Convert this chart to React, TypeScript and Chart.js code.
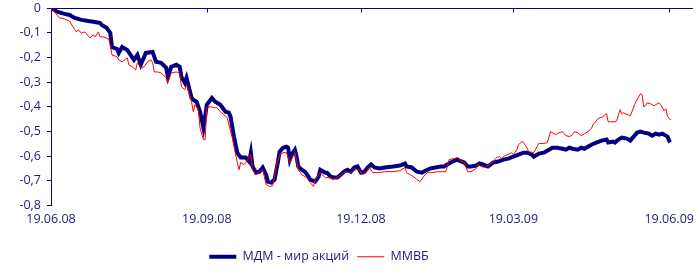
import { useEffect, useRef } from "react";
import Chart from "chart.js/auto";

// Days counted from 19.06.08
const tickDays = [0, 92, 183, 273, 365];
const tickLabels = ["19.06.08", "19.09.08", "19.12.08", "19.03.09", "19.06.09"];
const yTickValues = [0, -0.1, -0.2, -0.3, -0.4, -0.5, -0.6, -0.7, -0.8];
const seriesNames = ["МДМ - мир акций", "ММВБ"];

const mdmDays = [
  0, 4, 8, 11, 14, 18, 22, 26, 29, 30, 33, 35, 36, 39, 40, 42, 45, 47, 49, 51,
  53, 56, 60, 62, 65, 68, 69, 71, 74, 76, 77, 79, 80, 83, 84, 86, 88, 90, 91, 92,
  95, 97, 100, 103, 105, 106, 108, 110, 112, 115, 117, 118, 119, 121, 123, 125, 127, 128, 130, 132,
  134, 135, 137, 139, 140, 141, 142, 144, 145, 146, 148, 150, 152, 153, 156, 158, 159, 162, 163, 165,
  168, 169, 171, 173, 175, 177, 179, 181, 183, 185, 187, 189, 191, 194, 197, 202, 206, 209, 210, 213,
  216, 219, 221, 224, 227, 230, 232, 234, 237, 240, 241, 244, 246, 248, 251, 253, 255, 258, 261, 264,
  267, 270, 273, 276, 279, 281, 284, 285, 288, 291, 294, 296, 299, 302, 304, 306, 308, 311, 313, 315,
  317, 319, 322, 325, 328, 329, 332, 333, 335, 337, 340, 342, 344, 346, 348, 350, 353, 355, 357, 359,
  361, 363, 364, 365, 366,
];
const mdmValues = [
  0, -0.016, -0.024, -0.028, -0.04, -0.048, -0.053, -0.057, -0.061, -0.069, -0.081, -0.101, -0.158, -0.166, -0.182, -0.158, -0.17, -0.19, -0.21, -0.19,
  -0.23, -0.182, -0.178, -0.218, -0.222, -0.242, -0.279, -0.238, -0.23, -0.238, -0.279, -0.303, -0.283, -0.364, -0.372, -0.38, -0.42, -0.485, -0.44, -0.392,
  -0.364, -0.38, -0.392, -0.42, -0.424, -0.44, -0.521, -0.586, -0.606, -0.606, -0.622, -0.586, -0.642, -0.667, -0.663, -0.646, -0.675, -0.703, -0.707, -0.695,
  -0.622, -0.582, -0.566, -0.562, -0.566, -0.614, -0.594, -0.574, -0.602, -0.642, -0.655, -0.663, -0.683, -0.695, -0.703, -0.683, -0.655, -0.667, -0.667, -0.683,
  -0.687, -0.687, -0.675, -0.663, -0.655, -0.663, -0.646, -0.642, -0.667, -0.663, -0.646, -0.634, -0.646, -0.65, -0.646, -0.642, -0.638, -0.63, -0.642, -0.646,
  -0.663, -0.667, -0.659, -0.65, -0.646, -0.642, -0.642, -0.634, -0.622, -0.614, -0.618, -0.626, -0.642, -0.642, -0.638, -0.63, -0.634, -0.642, -0.626, -0.622,
  -0.614, -0.61, -0.602, -0.594, -0.586, -0.586, -0.594, -0.602, -0.59, -0.586, -0.574, -0.566, -0.566, -0.57, -0.574, -0.566, -0.57, -0.574, -0.566, -0.57,
  -0.562, -0.554, -0.545, -0.537, -0.533, -0.545, -0.541, -0.545, -0.533, -0.525, -0.529, -0.537, -0.521, -0.505, -0.501, -0.505, -0.509, -0.517, -0.509, -0.513,
  -0.509, -0.517, -0.521, -0.537, -0.533,
];

const micexDays = [
  0, 2, 5, 8, 11, 13, 15, 16, 18, 20, 23, 25, 26, 28, 29, 31, 34, 35, 36, 39,
  40, 42, 45, 46, 48, 50, 51, 53, 55, 57, 59, 60, 61, 63, 65, 68, 69, 71, 74, 76,
  77, 79, 80, 83, 84, 85, 87, 88, 90, 91, 92, 94, 97, 98, 100, 102, 104, 107, 109, 110,
  111, 112, 114, 115, 118, 119, 121, 123, 125, 127, 129, 131, 133, 135, 137, 139, 141, 142, 144, 146,
  148, 150, 152, 153, 155, 156, 159, 160, 162, 165, 166, 168, 170, 172, 174, 176, 178, 180, 182, 184,
  186, 188, 190, 194, 197, 202, 206, 209, 210, 212, 214, 216, 218, 220, 222, 225, 228, 231, 233, 234,
  235, 238, 240, 241, 244, 246, 248, 251, 252, 254, 256, 259, 261, 263, 265, 266, 268, 271, 272, 273,
  275, 276, 278, 279, 281, 282, 285, 286, 288, 291, 293, 295, 296, 298, 300, 302, 304, 306, 308, 309,
  311, 313, 315, 317, 319, 320, 323, 326, 327, 328, 329, 332, 333, 334, 336, 337, 338, 339, 342, 343,
  345, 347, 348, 349, 350, 351, 352, 354, 356, 357, 359, 360, 362, 363, 364, 365, 366,
];
const micexValues = [
  0, -0.016, -0.04, -0.044, -0.053, -0.077, -0.097, -0.089, -0.101, -0.097, -0.121, -0.109, -0.117, -0.097, -0.117, -0.117, -0.125, -0.149, -0.19, -0.198,
  -0.21, -0.218, -0.202, -0.23, -0.238, -0.251, -0.222, -0.242, -0.238, -0.218, -0.21, -0.222, -0.259, -0.259, -0.263, -0.283, -0.303, -0.263, -0.259, -0.263,
  -0.319, -0.331, -0.311, -0.38, -0.42, -0.392, -0.412, -0.485, -0.533, -0.533, -0.404, -0.4, -0.404, -0.404, -0.42, -0.432, -0.444, -0.525, -0.594, -0.626,
  -0.655, -0.626, -0.634, -0.626, -0.594, -0.655, -0.675, -0.663, -0.655, -0.715, -0.723, -0.719, -0.642, -0.594, -0.586, -0.586, -0.626, -0.614, -0.586, -0.655,
  -0.675, -0.683, -0.695, -0.707, -0.723, -0.695, -0.667, -0.675, -0.687, -0.687, -0.695, -0.691, -0.683, -0.671, -0.663, -0.667, -0.663, -0.655, -0.655, -0.675,
  -0.667, -0.646, -0.667, -0.667, -0.663, -0.663, -0.659, -0.646, -0.667, -0.675, -0.683, -0.695, -0.703, -0.683, -0.667, -0.667, -0.663, -0.663, -0.663, -0.642,
  -0.614, -0.61, -0.606, -0.614, -0.626, -0.663, -0.663, -0.65, -0.634, -0.642, -0.646, -0.634, -0.622, -0.606, -0.602, -0.61, -0.598, -0.59, -0.586, -0.594,
  -0.574, -0.554, -0.541, -0.545, -0.566, -0.582, -0.586, -0.574, -0.549, -0.549, -0.545, -0.501, -0.505, -0.513, -0.505, -0.501, -0.517, -0.521, -0.513, -0.501,
  -0.505, -0.517, -0.509, -0.501, -0.489, -0.473, -0.448, -0.44, -0.432, -0.428, -0.461, -0.461, -0.461, -0.457, -0.412, -0.428, -0.424, -0.428, -0.436, -0.42,
  -0.384, -0.36, -0.347, -0.352, -0.4, -0.396, -0.384, -0.388, -0.396, -0.392, -0.384, -0.392, -0.416, -0.408, -0.44, -0.448, -0.453,
];

const NAVY = "#000080";
const TEXT = "#1c1c80";
const FONT = "'Open Sans', 'DejaVu Sans', sans-serif";

const topAxisPlugin = {
  id: "topAxis",
  afterLayout(chart: any) {
    // Excel places this legend a little left of centre
    if (chart.legend) {
      chart.legend.left -= 30;
      chart.legend.right -= 30;
    }
  },
  beforeDatasetsDraw(chart: any) {
    const { ctx, chartArea, scales } = chart;
    const y = Math.round(scales.y.getPixelForValue(0)) + 0.5;
    ctx.save();
    ctx.strokeStyle = NAVY;
    ctx.lineWidth = 1;
    ctx.beginPath();
    ctx.moveTo(chartArea.left, y);
    ctx.lineTo(chartArea.right, y);
    tickDays.forEach((d) => {
      const x = Math.round(scales.x.getPixelForValue(d)) + 0.5;
      ctx.moveTo(x, y);
      ctx.lineTo(x, y + 4);
    });
    ctx.stroke();
    ctx.restore();
  },
};

export default function App() {
  const ref = useRef<HTMLCanvasElement>(null);
  useEffect(() => {
    document.body.style.margin = "0";
    const canvas = ref.current;
    if (!canvas) return;
    const chart = new Chart(canvas, {
      type: "line",
      data: {
        datasets: [
          {
            label: seriesNames[0],
            data: mdmDays.map((d, i) => ({ x: d, y: mdmValues[i] })),
            borderColor: NAVY,
            backgroundColor: NAVY,
            borderWidth: 4,
            pointRadius: 0,
            tension: 0,
            order: 2,
          },
          {
            label: seriesNames[1],
            data: micexDays.map((d, i) => ({ x: d, y: micexValues[i] })),
            borderColor: "#ff0000",
            backgroundColor: "#ff0000",
            borderWidth: 1,
            pointRadius: 0,
            tension: 0,
            order: 1,
          },
        ],
      },
      options: {
        animation: false,
        responsive: false,
        maintainAspectRatio: false,
        layout: { padding: { top: 8, right: 2, left: 0, bottom: 1 } },
        scales: {
          x: {
            type: "linear",
            min: 0,
            max: 379,
            afterBuildTicks: (scale: any) => {
              scale.ticks = tickDays.map((v) => ({ value: v }));
            },
            afterFit: (scale: any) => {
              scale.height = scale.height + 10;
            },
            grid: { display: false, drawTicks: false },
            border: { display: false },
            ticks: {
              autoSkip: false,
              maxRotation: 0,
              padding: 6,
              color: TEXT,
              font: { family: FONT, size: 12.5 },
              callback: (v: any) => {
                const i = tickDays.indexOf(Number(v));
                return i >= 0 ? tickLabels[i] : "";
              },
            },
          },
          y: {
            min: -0.8,
            max: 0,
            afterBuildTicks: (scale: any) => {
              scale.ticks = yTickValues.map((v) => ({ value: v }));
            },
            afterFit: (scale: any) => {
              scale.width = 51;
              scale.paddingTop = 0;
              scale.paddingBottom = 0;
            },
            grid: { drawOnChartArea: false, drawTicks: true, tickLength: 4, color: NAVY },
            border: { display: true, color: NAVY, width: 1 },
            ticks: {
              padding: 6,
              color: TEXT,
              font: { family: FONT, size: 12.5 },
              callback: (v: any) => {
                const n = Number(v);
                if (Math.abs(n) < 1e-9) return "0";
                return n.toFixed(1).replace(".", ",");
              },
            },
          },
        },
        plugins: {
          tooltip: { enabled: false },
          legend: {
            position: "bottom",
            labels: {
              sort: (a: any, b: any) => a.datasetIndex - b.datasetIndex,
              usePointStyle: true,
              pointStyle: "line",
              pointStyleWidth: 27,
              boxHeight: 12,
              padding: 8,
              color: TEXT,
              font: { family: FONT, size: 12.5 },
            },
          },
        },
      },
      plugins: [topAxisPlugin],
    });
    return () => chart.destroy();
  }, []);
  return <canvas ref={ref} width={700} height={274} style={{ display: "block", width: 700, height: 274 }} />;
}
